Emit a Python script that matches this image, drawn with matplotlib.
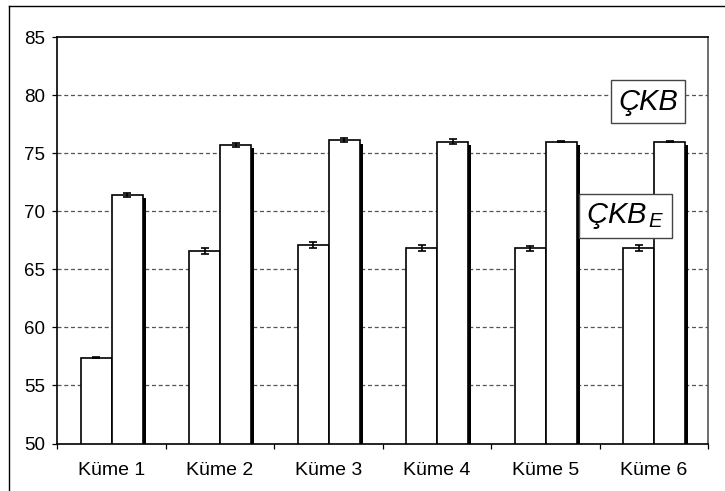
import matplotlib
matplotlib.use("Agg")
import matplotlib.pyplot as plt
import matplotlib.patheffects as pe
from matplotlib.lines import Line2D
import numpy as np

categories = ["Küme 1", "Küme 2", "Küme 3", "Küme 4", "Küme 5", "Küme 6"]
ckb_e = [57.4, 66.6, 67.1, 66.8, 66.8, 66.8]
ckb_e_err = [0.08, 0.25, 0.25, 0.25, 0.22, 0.25]
ckb = [71.4, 75.7, 76.1, 76.0, 76.0, 76.0]
ckb_err = [0.15, 0.18, 0.18, 0.18, 0.08, 0.08]
yticks = [50, 55, 60, 65, 70, 75, 80, 85]

plt.rcParams['font.family'] = ['Liberation Sans', 'DejaVu Sans']
plt.rcParams['mathtext.fontset'] = 'custom'
plt.rcParams['mathtext.it'] = 'Liberation Sans:italic'
plt.rcParams['mathtext.rm'] = 'Liberation Sans'

fig = plt.figure(figsize=(7.25, 4.91), dpi=100)
ax = fig.add_axes([57/725, 1 - 443.5/491, (708-57)/725, (443.5-37)/491])

x = np.arange(len(categories))
w = 0.286
b1 = ax.bar(x - 0.139, [v - 50 for v in ckb_e], width=w, bottom=50, color='white',
            edgecolor='black', linewidth=1.2, zorder=3)
b2 = ax.bar(x + 0.147, [v - 50 for v in ckb], width=w, bottom=50, color='white',
            edgecolor='black', linewidth=1.2, zorder=3)
for p in b2:
    p.set_path_effects([pe.SimplePatchShadow(offset=(2.2, -2.4), shadow_rgbFace='black', alpha=1.0),
                        pe.Normal()])

ax.errorbar(x - 0.139, ckb_e, yerr=ckb_e_err, fmt='none', ecolor='black',
            elinewidth=1.2, capsize=3, capthick=1.2, zorder=4)
ax.errorbar(x + 0.147, ckb, yerr=ckb_err, fmt='none', ecolor='black',
            elinewidth=1.2, capsize=3, capthick=1.2, zorder=4)

ax.set_xlim(-0.5, len(categories) - 0.5)
ax.set_ylim(50, 85)
ax.set_yticks(yticks)
ax.set_yticklabels([str(t) for t in yticks], fontsize=13.5)
for t in yticks[1:-1]:
    ax.axhline(t, color='#555555', linewidth=0.9, dashes=(3.2, 2.2), zorder=1)

ax.set_xticks(x)
ax.set_xticklabels(categories, fontsize=14)
ax.set_xticks(np.arange(-0.5, len(categories)), minor=True)
ax.tick_params(axis='x', which='major', length=0, pad=13)
ax.tick_params(axis='x', which='minor', length=3.5, width=0.9, direction='out')
ax.tick_params(axis='y', length=3.5, width=0.9, direction='out', pad=5)

for s in ['left', 'bottom', 'top']:
    ax.spines[s].set_color('black')
    ax.spines[s].set_linewidth(1.2)
ax.spines['right'].set_color('#555555')
ax.spines['right'].set_linewidth(1.2)

ax.text(4.947, 79.44, 'ÇKB', fontsize=21, style='italic', ha='center', va='center',
        bbox=dict(boxstyle='square,pad=0.25', facecolor='white', edgecolor='#444444', linewidth=1.0),
        zorder=6)
ax.text(4.74, 69.6, r'$\mathit{ÇKB}_{\,\mathit{E}}$', fontsize=21, ha='center', va='center',
        bbox=dict(boxstyle='square,pad=0.25', facecolor='white', edgecolor='#444444', linewidth=1.0),
        zorder=6)

xl = 8.5 / 725
yt = 1 - 5.5 / 491
fig.add_artist(Line2D([xl, xl], [0, yt], color='black', linewidth=1.0, transform=fig.transFigure))
fig.add_artist(Line2D([xl, 1], [yt, yt], color='black', linewidth=1.0, transform=fig.transFigure))

fig.savefig('out.png', dpi=100)
